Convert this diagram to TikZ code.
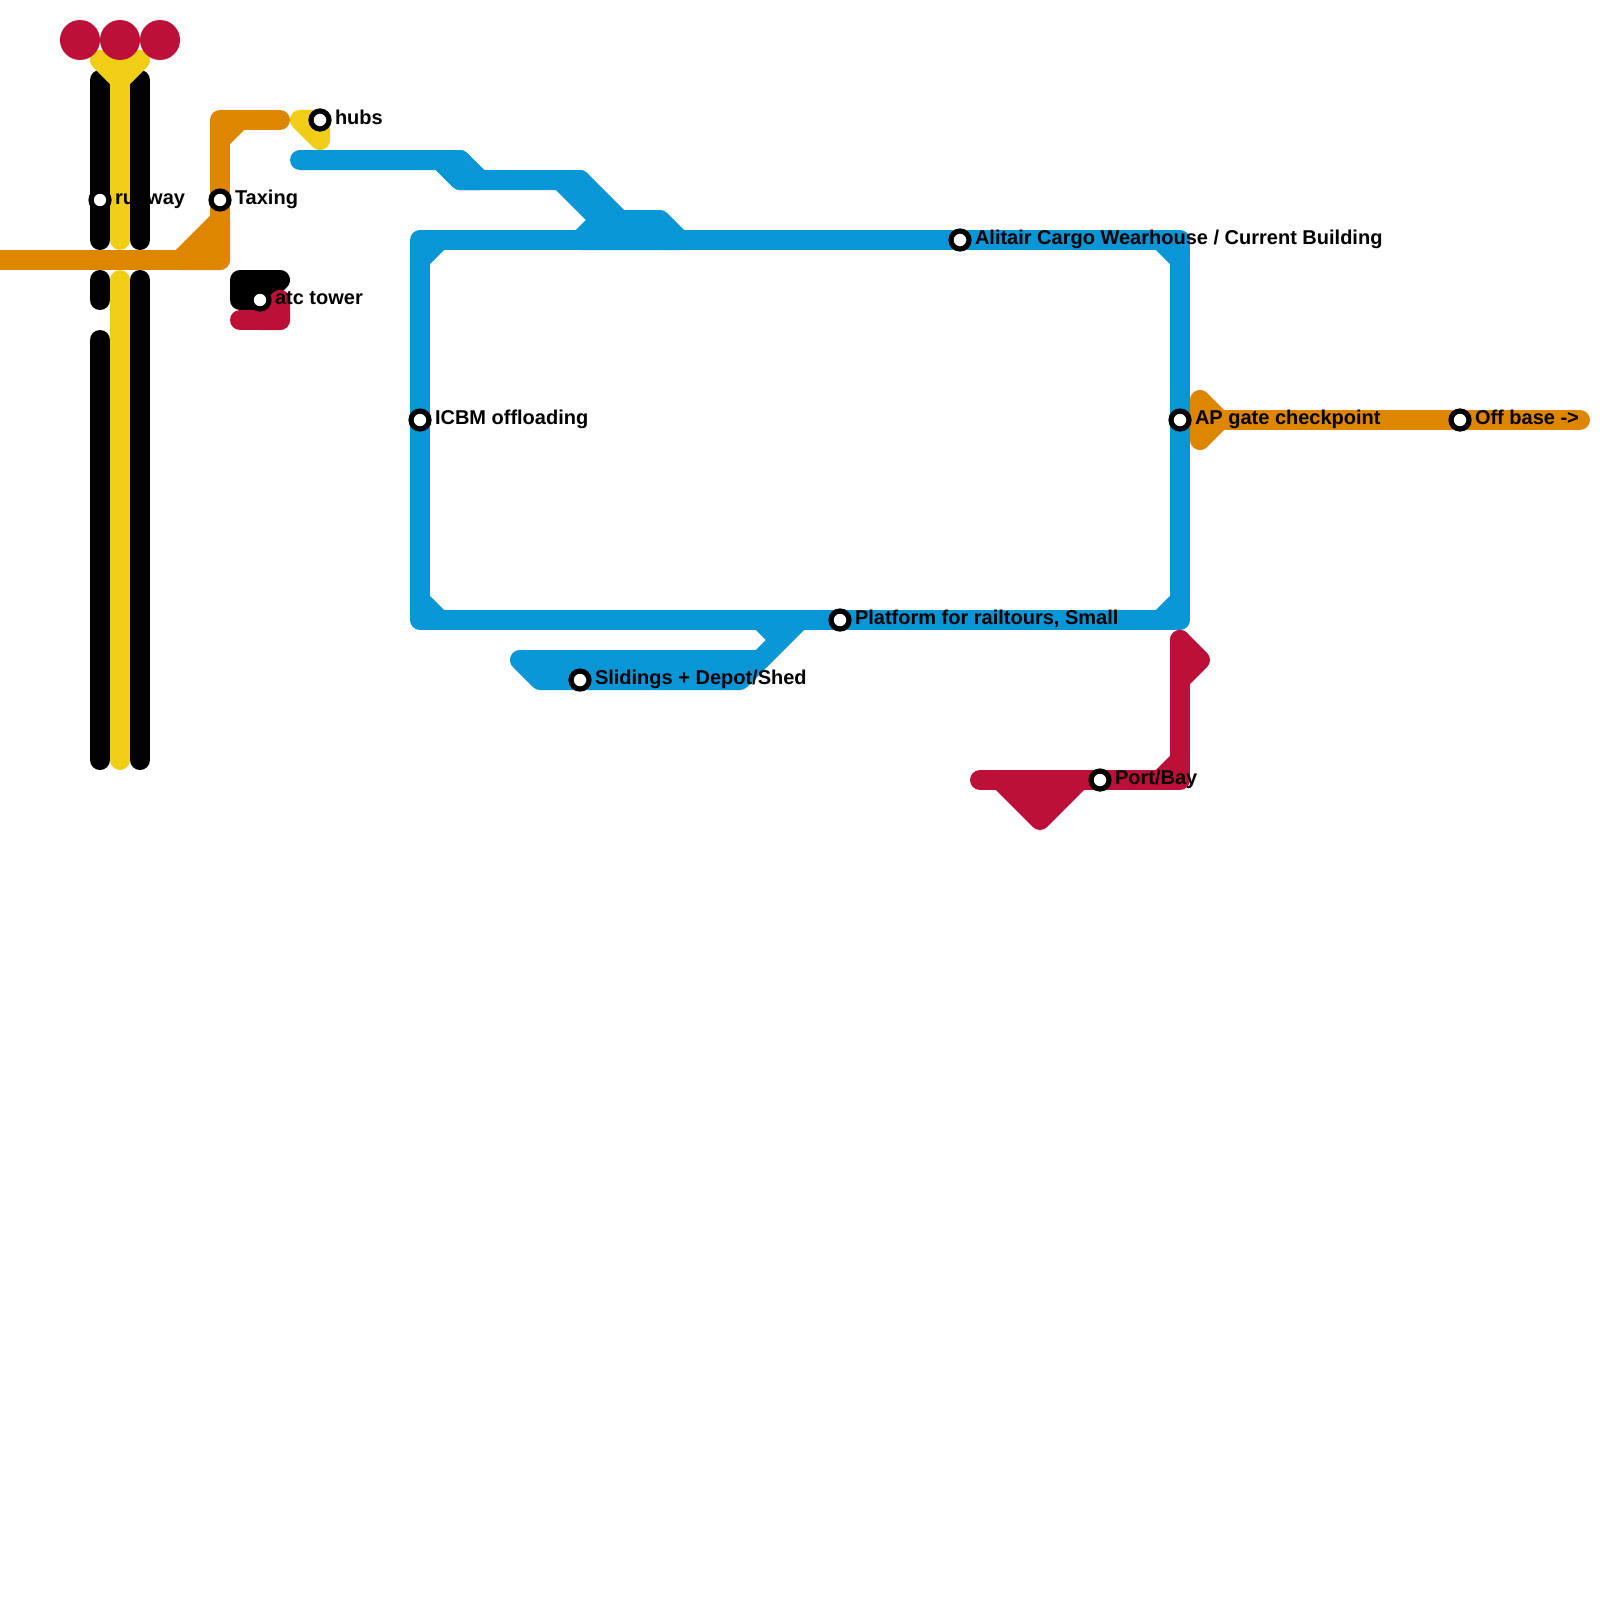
\documentclass[tikz,border=0pt]{standalone}
\usepackage{fontspec}
\setmainfont{Liberation Sans}
\definecolor{mblue}{HTML}{0896D7}
\definecolor{morange}{HTML}{DF8600}
\definecolor{myellow}{HTML}{F0CE15}
\definecolor{mred}{HTML}{BD1038}
\tikzset{
  track/.style={line width=10pt,line cap=round,line join=round},
  blob/.style={track,draw=#1,fill=#1},
  stn/.style={circle,draw=black,fill=white,line width=2.6pt,minimum size=9pt,inner sep=0pt,outer sep=0pt},
  stnlabel/.style={anchor=base west,inner sep=0pt,outer sep=0pt,yshift=-0.4pt,text=black,font=\fontsize{10}{12}\selectfont\bfseries},
  terminal/.style={circle,fill=mred,minimum size=20pt,inner sep=0pt,outer sep=0pt}
}
\begin{document}
\begin{tikzpicture}[x=0.5pt,y=-0.5pt]
\useasboundingbox (0,0) rectangle (1600,1600);
% black
\begin{scope}[track,draw=black]
\draw (100,80) -- (100,240);
\draw (140,80) -- (140,240);
\draw (100,280) -- (100,300);
\draw (100,340) -- (100,760);
\draw (140,280) -- (140,760);
\end{scope}
\filldraw[blob=black] (240,280) -- (280,280) -- (260,300) -- (240,300) -- cycle;
% yellow
\begin{scope}[track,draw=myellow]
\draw (120,80) -- (120,240);
\draw (120,280) -- (120,760);
\end{scope}
\filldraw[blob=myellow] (100,60) -- (140,60) -- (120,80) -- cycle;
\filldraw[blob=myellow] (300,120) -- (320,120) -- (320,140) -- cycle;
% orange
\begin{scope}[track,draw=morange]
\draw (-20,260) -- (220,260) -- (220,120) -- (280,120);
\draw (220,140) -- (240,120);
\draw (1200,420) -- (1580,420);
\end{scope}
\filldraw[blob=morange] (180,260) -- (220,220) -- (220,260) -- cycle;
\filldraw[blob=morange] (1200,400) -- (1220,420) -- (1200,440) -- cycle;
% red
\begin{scope}[track,draw=mred]
\draw (240,320) -- (280,320) -- (280,300);
\draw (1180,640) -- (1180,780) -- (980,780);
\draw (1160,780) -- (1180,760);
\end{scope}
\filldraw[blob=mred] (260,320) -- (280,320) -- (280,300) -- cycle;
\filldraw[blob=mred] (1180,640) -- (1200,660) -- (1180,680) -- cycle;
\filldraw[blob=mred] (1000,780) -- (1080,780) -- (1040,820) -- cycle;
% blue
\begin{scope}[track,draw=mblue]
\draw (300,160) -- (460,160) -- (480,180);
\draw (440,160) -- (460,180) -- (580,180);
\draw (420,240) -- (1180,240) -- (1180,620) -- (420,620) -- cycle;
\draw (420,260) -- (440,240);
\draw (1160,240) -- (1180,260);
\draw (1180,600) -- (1160,620);
\draw (420,600) -- (440,620);
\end{scope}
\filldraw[blob=mblue] (460,160) -- (480,180) -- (460,180) -- (440,160) -- cycle;
\filldraw[blob=mblue] (560,180) -- (580,180) -- (620,220) -- (660,220) -- (680,240) -- (580,240) -- (600,220) -- cycle;
\filldraw[blob=mblue] (520,660) -- (760,660) -- (780,640) -- (760,620) -- (800,620) -- (740,680) -- (540,680) -- cycle;
% terminals
\node[terminal] (t1) at (80,40) {};
\node[terminal] (t2) at (120,40) {};
\node[terminal] (t3) at (160,40) {};
% stations
\node[stn] (runway) at (100,200) {};
\node[stn] (taxing) at (220,200) {};
\node[stn] (hubs) at (320,120) {};
\node[stn] (atc) at (260,300) {};
\node[stn] (icbm) at (420,420) {};
\node[stn] (alitair) at (960,240) {};
\node[stn] (apgate) at (1180,420) {};
\node[stn] (offbase) at (1460,420) {};
\node[stn] (platform) at (840,620) {};
\node[stn] (slidings) at (580,680) {};
\node[stn] (port) at (1100,780) {};
% labels
\node[stnlabel] (runwayl) at (115,204) {runway};
\node[stnlabel] (taxingl) at (235,204) {Taxing};
\node[stnlabel] (hubsl) at (335,124) {hubs};
\node[stnlabel] (atcl) at (275,304) {atc tower};
\node[stnlabel] (icbml) at (435,424) {ICBM offloading};
\node[stnlabel] (alitairl) at (975,244) {Alitair Cargo Wearhouse / Current Building};
\node[stnlabel] (apgatel) at (1195,424) {AP gate checkpoint};
\node[stnlabel] (offbasel) at (1475,424) {Off base ->};
\node[stnlabel] (platforml) at (855,624) {Platform for railtours, Small};
\node[stnlabel] (slidingsl) at (595,684) {Slidings + Depot/Shed};
\node[stnlabel] (portl) at (1115,784) {Port/Bay};
\end{tikzpicture}
\end{document}
